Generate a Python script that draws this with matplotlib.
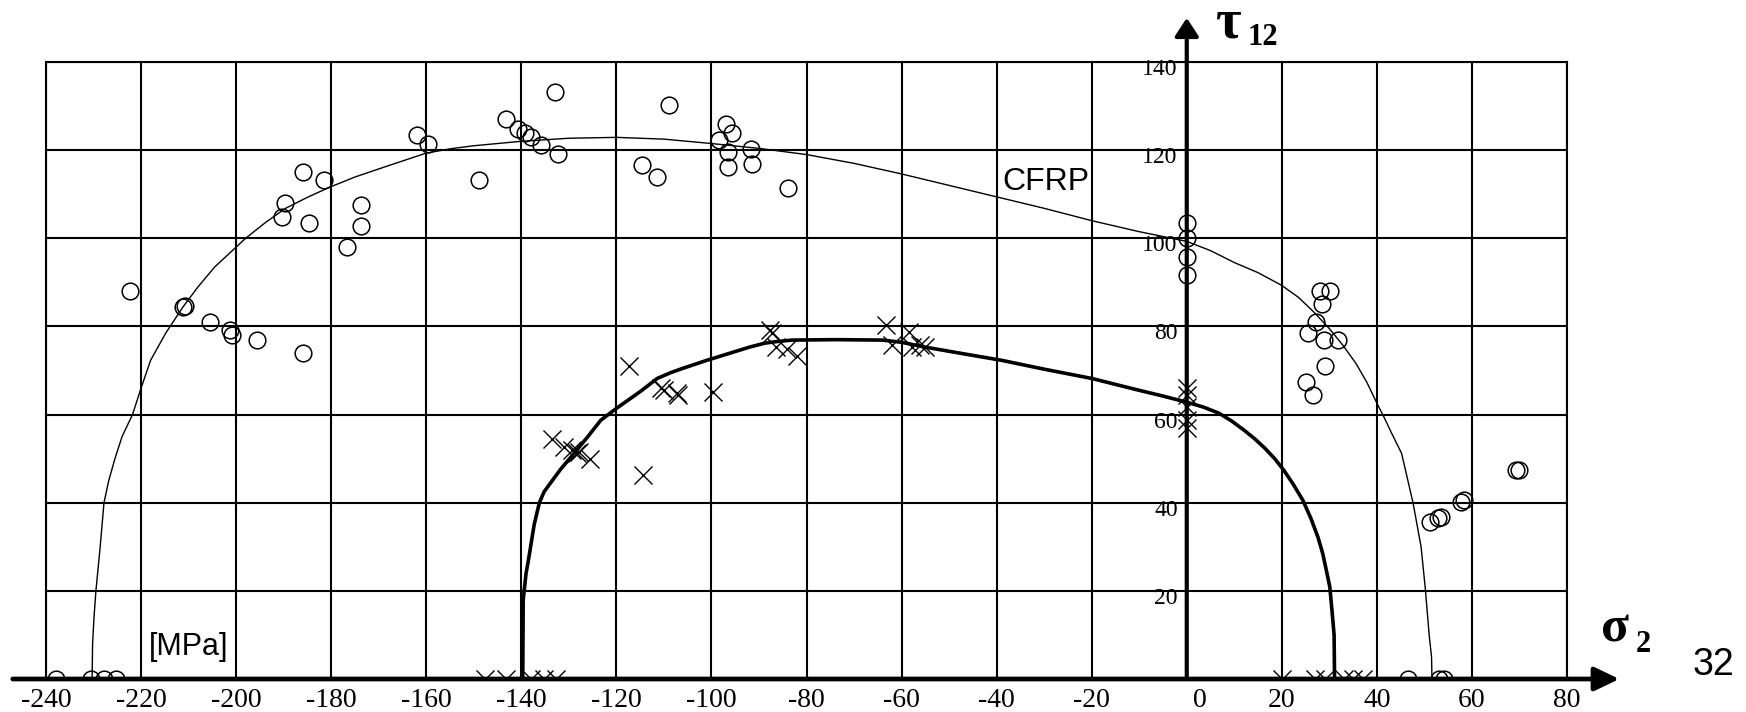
import matplotlib
matplotlib.use('Agg')
import matplotlib.pyplot as plt

# outer failure envelope (CFRP), thin line
cfrp_s2 = [-230.3, -230.2, -229.9, -229.5, -228.6, -227.8, -226.8, -225.5, -224.0, -221.8,
           -220.0, -218.0, -214.8, -211.2, -208.0, -204.5, -198.0, -193.8, -189.6, -185.0,
           -180.3, -175.0, -169.0, -160.1, -155.0, -150.0, -145.0, -140.1, -130.0, -120.0,
           -110.0, -100.0, -90.0, -80.0, -70.0, -60.0, -50.0, -40.0, -30.0, -20.0,
           -10.0, 0.0, 5.0, 10.0, 15.0, 20.0, 23.5, 26.7, 30.0, 32.8,
           35.6, 37.9, 40.0, 41.6, 43.0, 45.2, 47.6, 49.3, 50.2, 51.0,
           51.5, 51.6]
cfrp_t12 = [0.0, 8.0, 14.0, 20.0, 30.0, 40.0, 45.0, 50.0, 55.0, 60.0,
            66.0, 72.3, 78.5, 84.4, 89.0, 93.5, 100.0, 103.6, 106.8, 109.3,
            111.6, 113.9, 116.1, 119.3, 120.3, 121.0, 121.5, 122.0, 122.7, 122.9,
            122.5, 121.5, 120.4, 119.0, 117.0, 114.6, 112.0, 109.4, 106.8, 104.0,
            101.5, 99.3, 97.2, 94.5, 92.2, 89.3, 86.6, 83.3, 79.5, 75.8,
            71.6, 67.3, 62.6, 59.2, 56.0, 51.2, 40.0, 30.0, 20.4, 10.0,
            5.0, 0.0]

# inner failure envelope, thick line
inner_s2 = [-139.7, -139.6, -139.0, -138.5, -137.9, -137.3, -136.2, -135.2, -133.5, -131.8,
            -129.6, -126.0, -123.3, -120.0, -117.5, -115.0, -111.4, -108.6, -106.0, -101.0,
            -95.0, -92.0, -88.8, -86.0, -83.0, -74.0, -64.0, -60.0, -55.0, -47.0,
            -38.9, -30.0, -20.0, -10.0, -5.0, 0.0, 3.5, 6.8, 9.5, 12.0,
            14.3, 16.4, 18.5, 20.4, 22.4, 24.4, 26.1, 27.6, 28.6, 29.3,
            30.1, 30.6, 31.0, 31.1]
inner_t12 = [0.0, 18.0, 24.0, 27.0, 31.0, 35.0, 40.0, 42.5, 45.0, 47.5,
             50.3, 55.0, 58.7, 61.4, 63.3, 65.2, 68.2, 69.5, 70.5, 72.3,
             74.3, 75.3, 76.2, 76.6, 76.9, 77.0, 76.9, 76.4, 75.3, 73.8,
             72.3, 70.3, 68.2, 65.5, 64.2, 62.8, 61.7, 60.3, 58.5, 56.5,
             54.5, 52.4, 50.0, 47.4, 44.2, 40.6, 36.5, 32.2, 28.5, 25.0,
             20.9, 15.0, 10.0, 0.0]

# test results, CFRP (circles)
circ_s2 = [-238.0, -230.6, -227.9, -225.3, 46.5, 53.0, 54.1,
           -133.0, -143.3, -140.8, -139.3, -138.0, -135.9, -132.3, -162.0, -159.7, -148.9,
           -186.0, -181.6, -189.8, -190.4, -184.7, -173.8, -173.8, -176.7, -222.4, -211.2,
           -210.8, -205.6, -201.3, -200.9, -195.7, -186.0, -109.0, -97.0, -95.7, -98.5,
           -96.6, -96.6, -91.7, -91.5, -114.7, -111.5, -83.9,
           0.0, 0.0, 0.0, 0.0, 28.0, 30.1, 28.4, 27.2, 25.6, 28.8, 31.8, 29.0, 25.0, 26.5,
           69.9, 69.3, 58.3, 57.8, 52.8, 51.1, 53.5]
circ_t12 = [0.0, 0.0, 0.0, 0.0, 0.0, 0.0, 0.0,
            133.1, 127.0, 124.9, 123.8, 123.0, 121.1, 119.2, 123.4, 121.5, 113.2,
            115.0, 113.2, 108.0, 104.8, 103.4, 107.5, 102.7, 98.0, 88.0, 84.4,
            84.7, 81.0, 79.1, 78.0, 76.9, 73.9, 130.3, 125.9, 123.9, 122.2,
            119.6, 116.2, 120.3, 116.9, 116.6, 113.9, 111.5,
            103.4, 100.0, 95.8, 91.6, 88.0, 88.0, 85.2, 81.0, 78.5, 76.9, 76.9, 71.0, 67.3, 64.4,
            47.4, 47.4, 40.6, 40.2, 36.5, 35.6, 36.8]

# test results, second material (crosses)
cross_s2 = [-147.7, -143.3, -138.0, -135.3, -132.8, 20.0, 27.0, 29.0, 33.0, 35.0, 37.0,
            -133.6, -131.0, -129.4, -128.3, -127.9, -125.5, -114.5, -117.3, -110.7, -110.0,
            -107.3, -107.0, -99.7, -87.7, -87.2, -86.5, -84.0, -82.0, -63.3, -58.5,
            -62.1, -57.9, -56.2, -55.1, 0.0, 0.0, 0.0, 0.0, 0.0]
cross_t12 = [0.0, 0.0, 0.0, 0.0, 0.0, 0.0, 0.0, 0.0, 0.0, 0.0, 0.0,
             54.4, 52.7, 51.9, 51.2, 51.5, 50.0, 46.4, 71.0, 66.0, 65.5,
             64.8, 64.5, 65.1, 79.1, 78.5, 75.3, 74.8, 73.2, 80.3, 78.7,
             75.7, 75.3, 75.7, 75.3, 66.0, 64.4, 61.7, 58.7, 56.9]

x_ticks = list(range(-240, 81, 20))
y_ticks = list(range(20, 141, 20))

fig = plt.figure(figsize=(17.46, 7.12), dpi=100)
ax = fig.add_axes([46 / 1746, 33 / 712, 1521 / 1746, 617 / 712])
ax.set_xlim(-240, 80)
ax.set_ylim(0, 140)
ax.set_xticks(x_ticks)
ax.set_yticks([0] + y_ticks)
ax.tick_params(length=0, labelbottom=False, labelleft=False)
ax.grid(True, color='black', lw=1.5)
for sp in ax.spines.values():
    sp.set_linewidth(1.5)

# envelopes and test points
ax.plot(cfrp_s2, cfrp_t12, color='black', lw=1.0)
ax.plot(inner_s2, inner_t12, color='black', lw=2.6)
ax.plot(circ_s2, circ_t12, 'o', mfc='none', mec='black', ms=12, mew=1.1)
ax.plot(cross_s2, cross_t12, 'x', color='black', ms=13, mew=1.0)

# coordinate axes with arrows
ax.annotate('', xy=(91, 0), xytext=(-247, 0), annotation_clip=False,
            arrowprops=dict(arrowstyle='-|>,head_length=0.75,head_width=0.36', lw=3.4,
                            color='black', shrinkA=0, shrinkB=0, mutation_scale=20))
ax.annotate('', xy=(0, 150), xytext=(0, 0), annotation_clip=False,
            arrowprops=dict(arrowstyle='-|>,head_length=0.55,head_width=0.36', lw=3.0,
                            color='black', shrinkA=0, shrinkB=0, mutation_scale=20))

# tick labels
for v in x_ticks:
    ax.text(v + (2.7 if v == 0 else 0), -6.3, str(v), ha='center', va='baseline',
            family='Liberation Serif', fontsize=20)
for v in y_ticks:
    ax.text(-1.9, v - 2.95, str(v), ha='right', va='baseline',
            family='Liberation Serif', fontsize=17)

# labels
ax.text(-218.4, 5.4, '[MPa]', family='Liberation Sans', fontsize=22, va='baseline')
ax.text(-38.7, 110.9, 'CFRP', family='Liberation Sans', fontsize=23, va='baseline')
ax.text(6.1, 145.6, '\u03c4', family='Liberation Serif', fontweight='bold', fontsize=40, va='baseline')
ax.text(12.8, 143.8, '12', family='Liberation Serif', fontweight='bold', fontsize=22, va='baseline')
ax.text(87.1, 8.4, '\u03c3', family='Liberation Serif', fontweight='bold', fontsize=37, va='baseline')
ax.text(94.5, 6.1, '2', family='Liberation Serif', fontweight='bold', fontsize=22, va='baseline')
ax.text(106.5, 0.9, '32', family='Liberation Sans', fontsize=27, va='baseline')

fig.savefig('out.png', dpi=100)
